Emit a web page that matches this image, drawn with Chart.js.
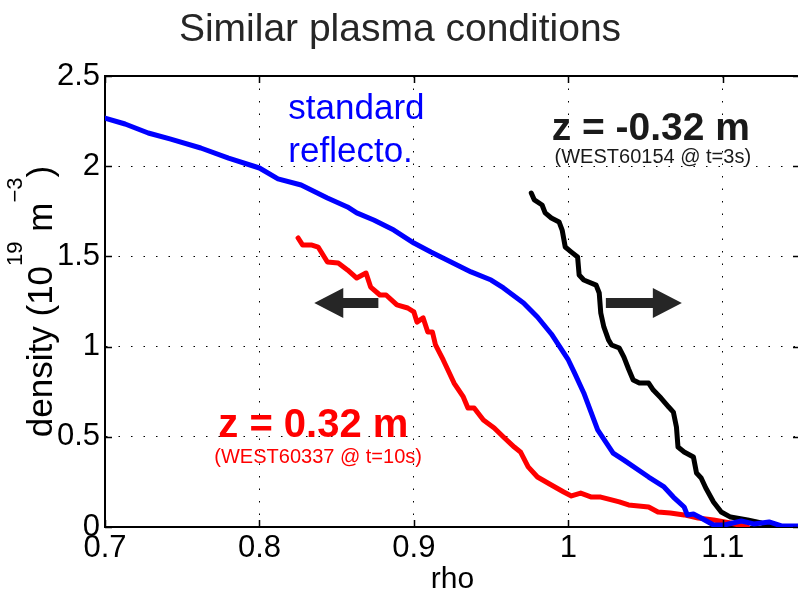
<!DOCTYPE html>
<html>
<head>
<meta charset="utf-8">
<title>Similar plasma conditions</title>
<script src="https://cdn.jsdelivr.net/npm/chart.js@4.4.1/dist/chart.umd.min.js"></script>
<style>
  html, body { margin: 0; padding: 0; background: #fff; overflow: hidden; }
</style>
</head>
<body>
<canvas id="myChart" width="800" height="598"></canvas>
<script>
// --- data ---
const xTicks = [0.7, 0.8, 0.9, 1.0, 1.1];
const xTickLabels = ['0.7', '0.8', '0.9', '1', '1.1'];
const yTicks = [0, 0.5, 1, 1.5, 2, 2.5];
const yTickLabels = ['0', '0.5', '1', '1.5', '2', '2.5'];

// standard reflectometry (blue)
const rhoStd = [0.700, 0.713, 0.728, 0.742, 0.762, 0.780, 0.800, 0.812, 0.827, 0.844, 0.857, 0.863, 0.874, 0.887, 0.900, 0.911, 0.924, 0.937, 0.950, 0.958, 0.971, 0.980, 0.989, 1.000, 1.004, 1.010, 1.019, 1.029, 1.036, 1.052, 1.062, 1.068, 1.075, 1.077, 1.081, 1.086, 1.094, 1.101, 1.112, 1.120, 1.130, 1.138, 1.150];
const neStd = [2.267, 2.234, 2.184, 2.151, 2.101, 2.045, 1.990, 1.930, 1.896, 1.824, 1.774, 1.741, 1.702, 1.646, 1.574, 1.524, 1.469, 1.414, 1.369, 1.325, 1.242, 1.164, 1.070, 0.926, 0.854, 0.743, 0.538, 0.410, 0.371, 0.277, 0.222, 0.166, 0.111, 0.067, 0.072, 0.050, 0.011, 0.011, 0.033, 0.017, 0.028, 0.006, 0.006];

// z = -0.32 m, WEST60154 @ t=3s (black)
const rhoTop = [0.976, 0.978, 0.983, 0.985, 0.989, 0.994, 0.996, 0.998, 1.002, 1.006, 1.007, 1.010, 1.018, 1.020, 1.021, 1.023, 1.026, 1.028, 1.033, 1.036, 1.039, 1.042, 1.046, 1.052, 1.055, 1.060, 1.065, 1.068, 1.070, 1.071, 1.075, 1.081, 1.083, 1.086, 1.089, 1.094, 1.099, 1.105, 1.116, 1.125, 1.133];
const neTop = [1.851, 1.813, 1.785, 1.741, 1.713, 1.691, 1.646, 1.552, 1.524, 1.497, 1.397, 1.369, 1.341, 1.297, 1.186, 1.109, 1.037, 1.009, 0.992, 0.942, 0.876, 0.815, 0.798, 0.798, 0.759, 0.715, 0.665, 0.637, 0.554, 0.443, 0.416, 0.388, 0.299, 0.272, 0.216, 0.139, 0.083, 0.055, 0.039, 0.022, 0.000];

// z = 0.32 m, WEST60337 @ t=10s (red)
const rhoBot = [0.825, 0.828, 0.834, 0.838, 0.844, 0.851, 0.857, 0.863, 0.869, 0.872, 0.878, 0.882, 0.889, 0.896, 0.900, 0.902, 0.906, 0.909, 0.912, 0.914, 0.919, 0.926, 0.932, 0.935, 0.939, 0.945, 0.952, 0.958, 0.965, 0.969, 0.974, 0.980, 0.989, 0.997, 1.002, 1.008, 1.015, 1.021, 1.028, 1.033, 1.039, 1.052, 1.058, 1.066, 1.075, 1.084, 1.094, 1.105, 1.116];
const neBot = [1.602, 1.563, 1.563, 1.552, 1.469, 1.463, 1.425, 1.380, 1.408, 1.330, 1.286, 1.286, 1.231, 1.214, 1.192, 1.136, 1.159, 1.081, 1.081, 1.009, 0.926, 0.798, 0.721, 0.660, 0.660, 0.593, 0.549, 0.499, 0.443, 0.416, 0.333, 0.277, 0.233, 0.194, 0.172, 0.188, 0.166, 0.166, 0.150, 0.139, 0.122, 0.111, 0.083, 0.078, 0.067, 0.050, 0.039, 0.022, 0.000];

const pts = (xs, ys) => xs.map((x, i) => ({ x: x, y: ys[i] }));

const FONT = '"Liberation Sans", Arial, Helvetica, sans-serif';

// text + arrows that sit on the plot (data coords)
const labels = [
  { text: 'standard', x: 0.8187, y: 2.262, size: 35, bold: false, color: '#0000ff', align: 'left' },
  { text: 'reflecto.', x: 0.8187, y: 2.024, size: 35, bold: false, color: '#0000ff', align: 'left' },
  { text: 'z = -0.32 m', x: 1.0534, y: 2.145, size: 39, bold: true, color: '#1a1a1a', align: 'center' },
  { text: '(WEST60154 @ t=3s)', x: 1.0547, y: 2.018, size: 20, bold: false, color: '#1a1a1a', align: 'center' },
  { text: 'z = 0.32 m', x: 0.8349, y: 0.499, size: 40, bold: true, color: '#ff0000', align: 'center' },
  { text: '(WEST60337 @ t=10s)', x: 0.8380, y: 0.355, size: 20, bold: false, color: '#ff0000', align: 'center' }
];
const arrows = [
  { from: 0.877, to: 0.8355, y: 1.242 },
  { from: 1.0243, to: 1.0735, y: 1.242 }
];

const extras = {
  id: 'extras',
  afterDatasetsDraw(chart) {
    const ctx = chart.ctx;
    const xs = chart.scales.x, ys = chart.scales.y;
    const a = chart.chartArea;
    ctx.save();

    // box top + inward ticks (matlab style)
    ctx.strokeStyle = '#000';
    ctx.lineWidth = 2;
    ctx.beginPath();
    ctx.moveTo(a.left, a.top); ctx.lineTo(a.right, a.top);
    ctx.moveTo(a.right, a.top); ctx.lineTo(a.right, a.bottom);
    ctx.stroke();
    ctx.lineWidth = 1.5;
    ctx.beginPath();
    xTicks.forEach(v => {
      const px = Math.round(xs.getPixelForValue(v)) + 0.5;
      ctx.moveTo(px, a.bottom); ctx.lineTo(px, a.bottom - 7);
      ctx.moveTo(px, a.top); ctx.lineTo(px, a.top + 7);
    });
    yTicks.forEach(v => {
      const py = Math.round(ys.getPixelForValue(v)) + 0.5;
      ctx.moveTo(a.left, py); ctx.lineTo(a.left + 7, py);
      ctx.moveTo(a.right, py); ctx.lineTo(a.right - 7, py);
    });
    ctx.stroke();

    // arrows
    ctx.fillStyle = '#262626';
    arrows.forEach(ar => {
      const x0 = xs.getPixelForValue(ar.from), x1 = xs.getPixelForValue(ar.to);
      const y = ys.getPixelForValue(ar.y);
      const dir = Math.sign(x1 - x0);
      const hx = x1 - dir * 29;
      ctx.beginPath();
      ctx.moveTo(x0, y - 5); ctx.lineTo(hx, y - 5); ctx.lineTo(hx, y - 15);
      ctx.lineTo(x1, y); ctx.lineTo(hx, y + 15); ctx.lineTo(hx, y + 5);
      ctx.lineTo(x0, y + 5); ctx.closePath();
      ctx.fill();
    });

    // annotations
    ctx.textBaseline = 'alphabetic';
    labels.forEach(l => {
      ctx.font = (l.bold ? 'bold ' : '') + l.size + 'px ' + FONT;
      ctx.fillStyle = l.color;
      ctx.textAlign = l.align;
      ctx.fillText(l.text, xs.getPixelForValue(l.x), ys.getPixelForValue(l.y));
    });

    // y axis title with superscripts
    const parts = [
      ['density (10', false], ['19', true], [' m', false], ['\u22123', true], [')', false]
    ];
    const big = '35px ' + FONT, small = '22px ' + FONT;
    let total = 0;
    parts.forEach(p => { ctx.font = p[1] ? small : big; total += ctx.measureText(p[0]).width; });
    ctx.translate(52, (a.top + a.bottom) / 2);
    ctx.rotate(-Math.PI / 2);
    ctx.fillStyle = '#000';
    ctx.textAlign = 'left';
    let cx = -total / 2;
    parts.forEach(p => {
      ctx.font = p[1] ? small : big;
      ctx.fillText(p[0], cx, p[1] ? -30 : 0);
      cx += ctx.measureText(p[0]).width;
    });
    ctx.restore();
  }
};

window.addEventListener('DOMContentLoaded', () => {
  const ctx = document.getElementById('myChart').getContext('2d');
  new Chart(ctx, {
    type: 'scatter',
    data: {
      datasets: [
        { label: 'standard reflecto.', data: pts(rhoStd, neStd), borderColor: '#0000ff' },
        { label: 'z = -0.32 m', data: pts(rhoTop, neTop), borderColor: '#000000' },
        { label: 'z = 0.32 m', data: pts(rhoBot, neBot), borderColor: '#ff0000' }
      ]
    },
    options: {
      responsive: false,
      animation: false,
      devicePixelRatio: 1,
      showLine: true,
      elements: {
        point: { radius: 0, hoverRadius: 0 },
        line: { borderWidth: 5, tension: 0, borderJoinStyle: 'round', borderCapStyle: 'round' }
      },
      layout: { padding: { top: 0, right: 0, left: 0, bottom: 0 } },
      scales: {
        x: {
          type: 'linear',
          min: 0.7,
          max: 1.15,
          afterBuildTicks: s => { s.ticks = xTicks.map(v => ({ value: v })); },
          afterFit: s => { s.height = 71; },
          ticks: {
            color: '#000',
            font: { family: FONT, size: 31 },
            padding: 3,
            maxRotation: 0,
            callback: (v, i) => xTickLabels[i]
          },
          grid: { color: '#000', lineWidth: 1, drawTicks: false },
          border: { display: true, color: '#000', width: 2, dash: [1.5, 11] },
          title: {
            display: true,
            text: 'rho',
            color: '#000',
            font: { family: FONT, size: 30 },
            padding: { top: 0, bottom: 0 }
          }
        },
        y: {
          type: 'linear',
          min: 0,
          max: 2.5,
          afterBuildTicks: s => { s.ticks = yTicks.map(v => ({ value: v })); },
          afterFit: s => { s.width = 105; },
          ticks: {
            color: '#000',
            font: { family: FONT, size: 31 },
            padding: 5,
            callback: (v, i) => yTickLabels[i]
          },
          grid: { color: '#000', lineWidth: 1, drawTicks: false },
          border: { display: true, color: '#000', width: 2, dash: [1.5, 11] }
        }
      },
      plugins: {
        legend: { display: false },
        tooltip: { enabled: false },
        title: {
          display: true,
          text: 'Similar plasma conditions',
          color: '#262626',
          font: { family: FONT, size: 39, weight: 'normal' },
          padding: { top: 7, bottom: 22.2 }
        }
      }
    },
    plugins: [extras]
  });
});
</script>
</body>
</html>
